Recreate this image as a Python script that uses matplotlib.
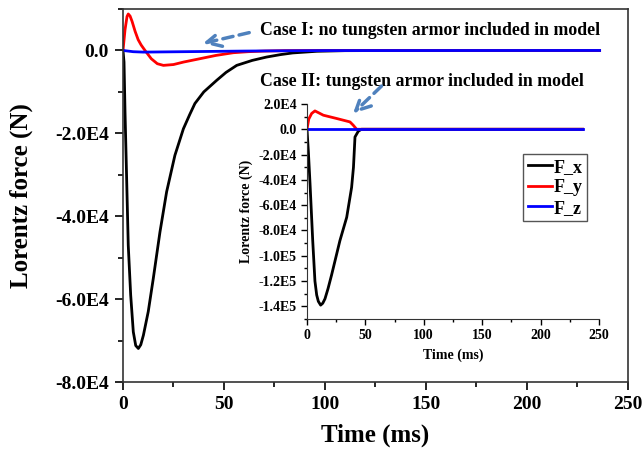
import numpy as np
import matplotlib.pyplot as plt
from matplotlib.ticker import MultipleLocator, FuncFormatter

plt.rcParams['font.family'] = ['Liberation Serif', 'DejaVu Serif']
plt.rcParams['font.weight'] = 'bold'

# Case I: no tungsten armor (main axes)
t_fx1 = [0, 0.5, 1.0, 1.8, 2.6, 3.8, 5.1, 6.3, 7.6, 8.8, 10.1, 12.5, 15.0, 18.3, 21.6,
         25.7, 29.9, 33.0, 35.6, 40.0, 46.4, 51.0, 56.3, 64.0, 71.0, 78.0, 84.0, 96.0,
         110.0, 150.0, 200.0, 236.0]
fx1 = [0, -2.8e3, -1.49e4, -3.09e4, -4.7e4, -5.9e4, -6.79e4, -7.12e4, -7.19e4,
       -7.1e4, -6.87e4, -6.3e4, -5.5e4, -4.38e4, -3.41e4, -2.53e4, -1.89e4,
       -1.55e4, -1.28e4, -1.0e4, -7.2e3, -5.3e3, -3.6e3, -2.4e3, -1.6e3, -1.0e3,
       -6.0e2, -2.0e2, -5.0e1, 0, 0, 0]
t_fy1 = [0, 1.0, 2.0, 2.6, 3.5, 4.5, 6.0, 7.5, 9.0, 10.9, 14.0, 17.0, 20.0, 25.0, 30.0,
         38.0, 46.0, 54.6, 62.0, 70.0, 80.0, 100.0, 236.0]
fy1 = [0, 5.0e3, 8.2e3, 8.8e3, 8.3e3, 7.0e3, 4.6e3, 2.6e3, 1.3e3, 0, -2.0e3,
       -3.2e3, -3.6e3, -3.4e3, -2.8e3, -2.0e3, -1.2e3, -5.5e2, -3.0e2, -1.5e2,
       -5.0e1, 0, 0]
t_fz1 = [0, 5, 10, 20, 40, 60, 80, 100, 236]
fz1 = [0, -300, -400, -350, -250, -150, -80, -30, 0]

# Case II: tungsten armor included (inset)
t_fx2 = [0, 1.2, 2.6, 4.9, 6.8, 8.3, 9.7, 11.7, 13.5, 15.4, 18.0, 21.1, 28.2, 34.0,
         38.2, 39.8, 41.1, 43.9, 46.6, 236.0]
fx2 = [0, -1.8e4, -4.3e4, -8.8e4, -1.2e5, -1.31e5, -1.36e5, -1.39e5, -1.375e5,
       -1.34e5, -1.26e5, -1.15e5, -8.8e4, -6.96e4, -4.6e4, -3.0e4, -6.1e3,
       -1.6e3, 0, 0]
t_fy2 = [0, 1.5, 4.0, 6.8, 10.0, 14.0, 25.4, 36.8, 39.6, 42.5, 236.0]
fy2 = [0, 8.0e3, 1.25e4, 1.45e4, 1.3e4, 1.11e4, 8.5e3, 5.8e3, 3.2e3, 0, 0]
t_fz2 = [0, 10, 50, 100, 236]
fz2 = [0, 0, 0, 0, 0]

labels = ["F_x", "F_y", "F_z"]
colors = ["black", "#ff0000", "#0000ff"]
arrow_color = "#4f81bd"


def sci_fmt(v, pos):
    if abs(v) < 1e-9:
        return "0.0"
    exp = int(np.floor(np.log10(abs(v))))
    return f"{v / 10**exp:.1f}E{exp}"


fig = plt.figure(figsize=(6.44, 4.5), dpi=100)
ax = fig.add_axes([0.191, 0.151, 0.784, 0.829])

ax.plot(t_fx1, fx1, color=colors[0], lw=2)
ax.plot(t_fy1, fy1, color=colors[1], lw=2)
ax.plot(t_fz1, fz1, color=colors[2], lw=2)

ax.set_xlim(0, 250)
ax.set_ylim(-8e4, 1e4)
ax.xaxis.set_major_locator(MultipleLocator(50))
ax.xaxis.set_minor_locator(MultipleLocator(25))
ax.yaxis.set_major_locator(MultipleLocator(2e4))
ax.yaxis.set_minor_locator(MultipleLocator(1e4))
ax.yaxis.set_major_formatter(FuncFormatter(sci_fmt))
ax.tick_params(which='major', direction='out', length=6, width=1.2, labelsize=14,
               top=False, right=False, pad=4)
ax.tick_params(which='minor', direction='out', length=3.5, width=1.2,
               top=False, right=False)
for s in ax.spines.values():
    s.set_linewidth(1.2)
    s.set_color('#333333')
ax.set_xlabel("Time (ms)", fontsize=18, fontweight='bold', labelpad=8)
ax.set_ylabel("Lorentz force (N)", fontsize=18, fontweight='bold', labelpad=16)

# case labels with dashed arrows
ax.text(67.8, 4.8e3, "Case I: no tungsten armor included in model",
        fontsize=12.8, fontweight='bold', va='center', ha='left')
ax.text(67.8, -7.4e3, "Case II: tungsten armor included in model",
        fontsize=12.8, fontweight='bold', va='center', ha='left')
arrow_props = dict(arrowstyle='->', color=arrow_color, lw=2.5,
                   linestyle=(0, (3, 1.8)), mutation_scale=26,
                   shrinkA=0, shrinkB=0)
ax.annotate("", xy=(39.6, 1.7e3), xytext=(62.5, 4.3e3), arrowprops=arrow_props)
ax.annotate("", xy=(113.9, -1.52e4), xytext=(128.0, -8.6e3), arrowprops=arrow_props)

# inset for Case II
ins = fig.add_axes([0.4767, 0.291, 0.4533, 0.478])
ins.plot(t_fx2, fx2, color=colors[0], lw=2, label=labels[0])
ins.plot(t_fy2, fy2, color=colors[1], lw=2, label=labels[1])
ins.plot(t_fz2, fz2, color=colors[2], lw=2, label=labels[2])
ins.set_xlim(0, 250)
ins.set_ylim(-1.5e5, 2e4)
ins.xaxis.set_major_locator(MultipleLocator(50))
ins.xaxis.set_minor_locator(MultipleLocator(25))
ins.yaxis.set_major_locator(MultipleLocator(2e4))
ins.yaxis.set_minor_locator(MultipleLocator(1e4))
ins.yaxis.set_major_formatter(FuncFormatter(sci_fmt))
ins.tick_params(which='major', direction='out', length=4, width=1, labelsize=10)
ins.tick_params(which='minor', direction='out', length=2.5, width=1)
ins.spines['top'].set_visible(False)
ins.spines['right'].set_visible(False)
for s in ('left', 'bottom'):
    ins.spines[s].set_color('#333333')
ins.patch.set_alpha(0)
ins.set_xlabel("Time (ms)", fontsize=10, fontweight='bold')
ins.set_ylabel("Lorentz force (N)", fontsize=10, fontweight='bold')

leg = ins.legend(loc='upper left', bbox_to_anchor=(0.74, 0.767), fontsize=13,
                 handlelength=1.35, handletextpad=0.1, borderpad=0.25,
                 labelspacing=0.2, fancybox=False, framealpha=1,
                 borderaxespad=0)
leg.get_frame().set_edgecolor('#555555')
leg.get_frame().set_linewidth(1)

fig.savefig("out.png", dpi=100)
